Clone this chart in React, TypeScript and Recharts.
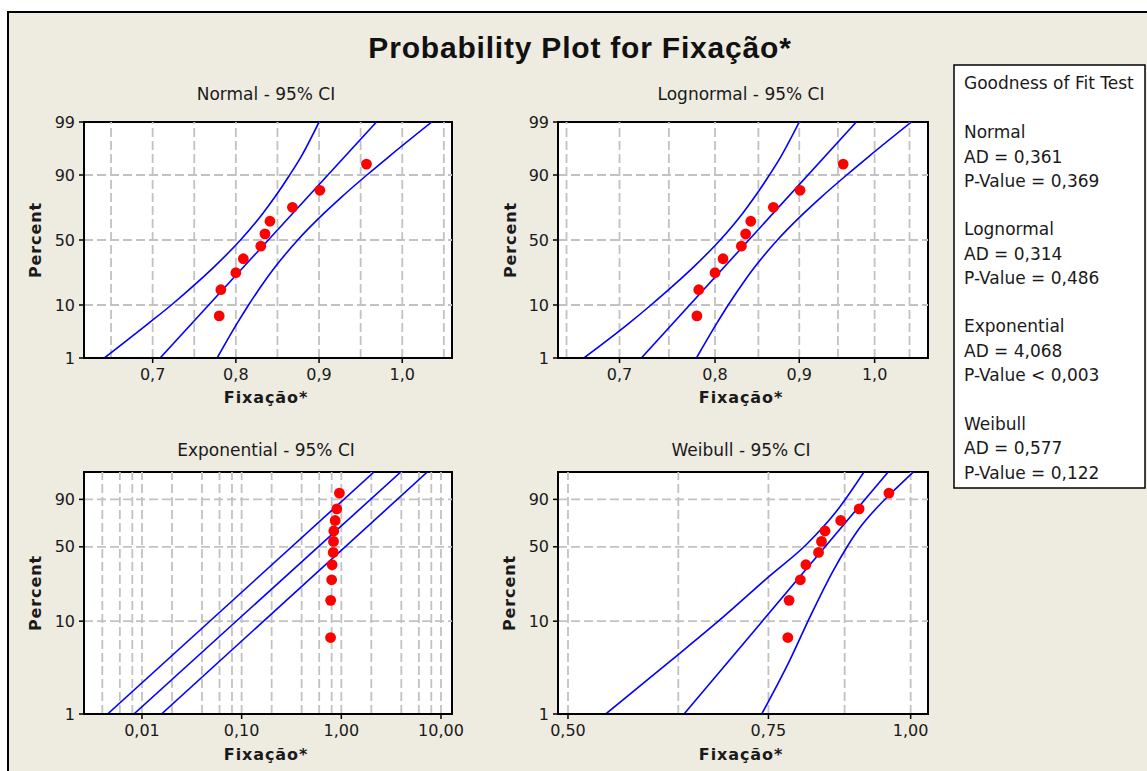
import React from 'react';
import { ComposedChart, XAxis, YAxis, Line, Scatter, ReferenceLine, ReferenceArea, CartesianGrid } from 'recharts';

// ---------- data ----------
const fixacao = [0.780, 0.782, 0.800, 0.809, 0.830, 0.835, 0.841, 0.868, 0.901, 0.957];
const plotPercent = [6.73, 16.35, 25.96, 35.58, 45.19, 54.81, 64.42, 74.04, 83.65, 93.27];

const bandPct = [1, 5, 10, 20, 30, 50, 70, 80, 90, 95, 99];
const fitPct = [1, 99];

const normalLower = [0.642, 0.695, 0.7225, 0.7533, 0.7742, 0.8056, 0.8324, 0.8467, 0.8647, 0.8785, 0.900];
const normalUpper = [0.7775, 0.8015, 0.8153, 0.8333, 0.8476, 0.8744, 0.9058, 0.9267, 0.9575, 0.9841, 1.0355];
const normalFit = [0.709, 0.969];

const lognormalLower = [0.666, 0.7092, 0.7315, 0.7581, 0.7768, 0.8058, 0.8314, 0.8453, 0.8632, 0.8772, 0.900];
const lognormalUpper = [0.7795, 0.8019, 0.8149, 0.8322, 0.8461, 0.8729, 0.9055, 0.9278, 0.9617, 0.9918, 1.0528];
const lognormalFit = [0.7217, 0.9747];

const expLower = [0.00452, 2.13];
const expFit = [0.0083, 3.95];
const expUpper = [0.0157, 7.3];

const weibullLowerPct = [1, 3.88, 10, 28.4, 52.3, 82, 99];
const weibullLower = [0.5397, 0.6168, 0.6777, 0.7524, 0.8103, 0.8610, 0.9099];
const weibullUpperPct = [1, 3.88, 11.1, 31.6, 49.4, 67.6, 86.8, 95.4, 99];
const weibullUpper = [0.7399, 0.7834, 0.8158, 0.8551, 0.8786, 0.9025, 0.9398, 0.9721, 1.0053];
const weibullFit = [0.6323, 0.9555];

const normalXTicks = [0.7, 0.8, 0.9, 1.0];
const normalXGrid = [0.65, 0.7, 0.75, 0.8, 0.85, 0.9, 0.95, 1.0, 1.05];
const expXTicks = [0.01, 0.1, 1, 10];
const expXGrid = [0.004, 0.006, 0.008, 0.01, 0.02, 0.04, 0.06, 0.08, 0.1, 0.2, 0.4, 0.6, 0.8, 1, 2, 4, 6, 8, 10];
const weibullXTicks = [0.5, 0.75, 1.0];
const weibullXGrid = [0.5, 0.625, 0.75, 0.875, 1.0];

const yTicksNormal = [1, 10, 50, 90, 99];
const yTicksSev = [1, 10, 50, 90];
const yGridPct = [10, 50, 90];

const gofLines = [
  ['Normal', 'AD = 0,361', 'P-Value = 0,369'],
  ['Lognormal', 'AD = 0,314', 'P-Value = 0,486'],
  ['Exponential', 'AD = 4,068', 'P-Value < 0,003'],
  ['Weibull', 'AD = 0,577', 'P-Value = 0,122'],
];

// ---------- probability-scale transforms ----------
function probit(p: number): number {
  const a = [-3.969683028665376e+01, 2.209460984245205e+02, -2.759285104469687e+02, 1.383577518672690e+02, -3.066479806614716e+01, 2.506628277459239e+00];
  const b = [-5.447609879822406e+01, 1.615858368580409e+02, -1.556989798598866e+02, 6.680131188771972e+01, -1.328068155288572e+01];
  const c = [-7.784894002430293e-03, -3.223964580411365e-01, -2.400758277161838e+00, -2.549671344840027e+00, 4.374664141464968e+00, 2.938163982698783e+00];
  const d = [7.784695709041462e-03, 3.224671290700398e-01, 2.445134137142996e+00, 3.754408661907416e+00];
  const plow = 0.02425;
  if (p < plow) {
    const q = Math.sqrt(-2 * Math.log(p));
    return (((((c[0] * q + c[1]) * q + c[2]) * q + c[3]) * q + c[4]) * q + c[5]) / ((((d[0] * q + d[1]) * q + d[2]) * q + d[3]) * q + 1);
  }
  if (p > 1 - plow) {
    const q = Math.sqrt(-2 * Math.log(1 - p));
    return -(((((c[0] * q + c[1]) * q + c[2]) * q + c[3]) * q + c[4]) * q + c[5]) / ((((d[0] * q + d[1]) * q + d[2]) * q + d[3]) * q + 1);
  }
  const q = p - 0.5;
  const r = q * q;
  return (((((a[0] * r + a[1]) * r + a[2]) * r + a[3]) * r + a[4]) * r + a[5]) * q / (((((b[0] * r + b[1]) * r + b[2]) * r + b[3]) * r + b[4]) * r + 1);
}
function sev(p: number): number {
  return Math.log(-Math.log(1 - p));
}

const FONT = 'DejaVu Sans';
const GRID = '#c2c2c2';

type Rect = { x: number; y: number; w: number; h: number };

function Panel(props: {
  rect: Rect;
  xDomain: [number, number];
  xScale: 'linear' | 'log';
  xTicks: number[];
  xDigits: number;
  xGrid: number[];
  T: (p: number) => number;
  yTicksPct: number[];
  curves: { pct: number[]; xs: number[]; curved: boolean }[];
}) {
  const { rect, xDomain, xScale, xTicks, xDigits, xGrid, T, yTicksPct, curves } = props;
  const M = { top: 14, right: 34, left: 0, bottom: 0 };
  const YW = 60;
  const XH = 40;
  const yDomain: [number, number] = [T(0.01), T(0.99)];
  const yTicks = yTicksPct.map((p) => T(p / 100));
  const fmtY = (v: number) => {
    let best = yTicksPct[0];
    let bd = Infinity;
    for (const p of yTicksPct) {
      const dd = Math.abs(T(p / 100) - v);
      if (dd < bd) { bd = dd; best = p; }
    }
    return String(best);
  };
  const fmtX = (v: number) => v.toFixed(xDigits).replace('.', ',');
  const pts = fixacao.map((x, i) => ({ x, y: T(plotPercent[i] / 100) }));
  const lineData = curves.map((cv) => cv.pct.map((p, i) => ({ x: cv.xs[i], y: T(p / 100) })));
  const dot = (p: any) => <circle cx={p.cx} cy={p.cy} r={5.4} fill="#ff0000" />;
  const tickStyle = { fill: '#1a1a1a', fontSize: 16, fontFamily: FONT };

  return (
    <div style={{ position: 'absolute', left: rect.x - YW, top: rect.y - M.top }}>
      <ComposedChart width={rect.w + YW + M.right} height={rect.h + M.top + XH} margin={M}>
        <CartesianGrid fill="#ffffff" stroke="none" horizontal={false} vertical={false} />
        <XAxis
          type="number"
          dataKey="x"
          scale={xScale}
          domain={xDomain}
          allowDataOverflow
          ticks={xTicks}
          interval={0}
          tickFormatter={fmtX}
          height={XH}
          tickSize={5}
          tickMargin={6}
          axisLine={{ stroke: '#000', strokeWidth: 2 }}
          tickLine={{ stroke: '#000', strokeWidth: 1.5 }}
          tick={tickStyle}
        />
        <YAxis
          type="number"
          dataKey="y"
          domain={yDomain}
          allowDataOverflow
          ticks={yTicks}
          interval={0}
          tickFormatter={fmtY}
          width={YW}
          tickSize={5}
          tickMargin={4}
          axisLine={{ stroke: '#000', strokeWidth: 2 }}
          tickLine={{ stroke: '#000', strokeWidth: 1.5 }}
          tick={tickStyle}
        />
        {xGrid.map((v) => (
          <ReferenceLine key={'gx' + v} x={v} stroke={GRID} strokeWidth={1.8} strokeDasharray="9 4" />
        ))}
        {yGridPct.map((p) => (
          <ReferenceLine key={'gy' + p} y={T(p / 100)} stroke={GRID} strokeWidth={1.8} strokeDasharray="9 4" />
        ))}
        {lineData.map((d, i) => (
          <Line
            key={'l' + i}
            data={d}
            dataKey="y"
            type={curves[i].curved ? 'monotone' : 'linear'}
            stroke="#0000ff"
            strokeWidth={1.6}
            dot={false}
            activeDot={false}
            isAnimationActive={false}
          />
        ))}
        <Scatter data={pts} shape={dot} isAnimationActive={false} />
        <ReferenceArea x1={xDomain[0]} x2={xDomain[1]} y1={yDomain[0]} y2={yDomain[1]} fill="none" fillOpacity={0} stroke="#000" strokeWidth={2} />
      </ComposedChart>
    </div>
  );
}

export default function App() {
  const rNormal = { x: 84, y: 122, w: 368, h: 236 };
  const rLog = { x: 558, y: 122, w: 370, h: 236 };
  const rExp = { x: 84, y: 472, w: 368, h: 242 };
  const rWei = { x: 558, y: 472, w: 370, h: 242 };

  const titleStyle = { fontFamily: FONT, fontSize: 17, fill: '#1a1a1a' } as any;
  const axisLab = { fontFamily: FONT, fontSize: 16, fontWeight: 'bold', fill: '#1a1a1a', letterSpacing: 0.9 } as any;
  const legStyle = { fontFamily: FONT, fontSize: 17, fill: '#1a1a1a' } as any;

  const panelTitles = [
    { t: 'Normal - 95% CI', x: 266, y: 100 },
    { t: 'Lognormal - 95% CI', x: 741, y: 100 },
    { t: 'Exponential - 95% CI', x: 266, y: 456 },
    { t: 'Weibull - 95% CI', x: 741, y: 456 },
  ];
  const xLabels = [
    { x: 266, y: 403 }, { x: 741, y: 403 }, { x: 266, y: 760 }, { x: 741, y: 760 },
  ];
  const yLabels = [
    { x: 41, y: 240 }, { x: 516, y: 240 }, { x: 40.5, y: 593 }, { x: 515, y: 593 },
  ];

  return (
    <div style={{ position: 'absolute', left: 0, top: 0, width: 1147, height: 771, overflow: 'hidden', background: '#ffffff' }}>
      <div style={{ position: 'absolute', left: 7, top: 11, width: 1170, height: 790, border: '2px solid #000', background: '#eeebe1', boxSizing: 'border-box' }} />

      <Panel rect={rNormal} xDomain={[0.6175, 1.0598]} xScale="linear" xTicks={normalXTicks} xDigits={1} xGrid={normalXGrid}
        T={probit} yTicksPct={yTicksNormal}
        curves={[
          { pct: bandPct, xs: normalLower, curved: true },
          { pct: fitPct, xs: normalFit, curved: false },
          { pct: bandPct, xs: normalUpper, curved: true },
        ]} />
      <Panel rect={rLog} xDomain={[0.6423, 1.0775]} xScale="log" xTicks={normalXTicks} xDigits={1} xGrid={normalXGrid}
        T={probit} yTicksPct={yTicksNormal}
        curves={[
          { pct: bandPct, xs: lognormalLower, curved: true },
          { pct: fitPct, xs: lognormalFit, curved: false },
          { pct: bandPct, xs: lognormalUpper, curved: true },
        ]} />
      <Panel rect={rExp} xDomain={[0.00262, 12.9]} xScale="log" xTicks={expXTicks} xDigits={2} xGrid={expXGrid}
        T={sev} yTicksPct={yTicksSev}
        curves={[
          { pct: fitPct, xs: expLower, curved: false },
          { pct: fitPct, xs: expFit, curved: false },
          { pct: fitPct, xs: expUpper, curved: false },
        ]} />
      <Panel rect={rWei} xDomain={[0.49, 1.0357]} xScale="log" xTicks={weibullXTicks} xDigits={2} xGrid={weibullXGrid}
        T={sev} yTicksPct={yTicksSev}
        curves={[
          { pct: weibullLowerPct, xs: weibullLower, curved: true },
          { pct: fitPct, xs: weibullFit, curved: false },
          { pct: weibullUpperPct, xs: weibullUpper, curved: true },
        ]} />

      <svg width={1147} height={771} style={{ position: 'absolute', left: 0, top: 0, pointerEvents: 'none' }}>
        <text x={580} y={58} textAnchor="middle" fontFamily="Liberation Sans" fontWeight="bold" fontSize={30} letterSpacing={0.8} fill="#111">
          Probability Plot for Fixação*
        </text>
        {panelTitles.map((p) => (
          <text key={p.t} x={p.x} y={p.y} textAnchor="middle" style={titleStyle}>{p.t}</text>
        ))}
        {xLabels.map((p, i) => (
          <text key={'xl' + i} x={p.x} y={p.y} textAnchor="middle" style={axisLab}>Fixação*</text>
        ))}
        {yLabels.map((p, i) => (
          <text key={'yl' + i} x={p.x} y={p.y} textAnchor="middle" transform={`rotate(-90 ${p.x} ${p.y})`} style={axisLab}>Percent</text>
        ))}
        <rect x={954} y={65} width={191} height={423} fill="#ffffff" stroke="#000" strokeWidth={1.5} />
        <text x={964} y={89} style={legStyle}>Goodness of Fit Test</text>
        {gofLines.map((g, gi) =>
          g.map((line, li) => (
            <text key={gi + '-' + li} x={964} y={138 + gi * 97.2 + li * 24.5} style={legStyle}>{line}</text>
          ))
        )}
      </svg>
    </div>
  );
}
